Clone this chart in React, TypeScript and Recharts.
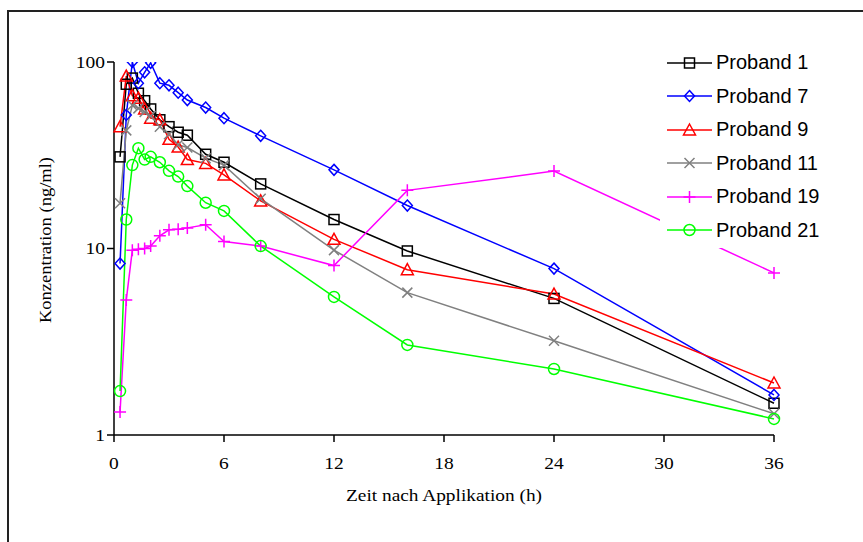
import React from "react";
import { LineChart, Line, XAxis, YAxis } from "recharts";

// sampling times (h)
const times = [0.33, 0.67, 1, 1.33, 1.67, 2, 2.5, 3, 3.5, 4, 5, 6, 8, 12, 16, 24, 36];

// concentrations (ng/ml) per subject
const proband1 = [31, 76, 82, 68, 62, 56, 49, 45, 42, 40.5, 32, 29, 22.2, 14.3, 9.7, 5.4, 1.48];
const proband7 = [8.3, 52, 100, 77, 88, 99, 77, 75, 68.5, 62.5, 57, 50, 40.2, 26.4, 17, 7.8, 1.64];
const proband9 = [45, 84, 66, 64, 56, 50, 49, 38.5, 35, 30, 28.6, 24.8, 18, 11.2, 7.7, 5.7, 1.9];
const proband11 = [17.5, 43, 58.6, 56.4, 54, 51.4, 45, 41, 36, 34.8, 30.5, 28, 18.5, 9.8, 5.8, 3.2, 1.3];
const proband19 = [1.33, 5.3, 9.8, 9.9, 10, 10.3, 11.7, 12.6, 12.7, 12.9, 13.4, 10.9, 10.3, 8.1, 20.5, 26, 7.4];
const proband21 = [1.72, 14.3, 28, 34.5, 30, 31, 29, 26.1, 24.3, 21.6, 17.6, 15.9, 10.3, 5.5, 3.04, 2.26, 1.22];

const xTicks = [0, 6, 12, 18, 24, 30, 36];
const yTicks = [1, 10, 100];

type Kind = "square" | "diamond" | "triangle" | "x" | "plus" | "circle";

const SERIES: { key: string; name: string; color: string; kind: Kind; values: number[] }[] = [
  { key: "p1", name: "Proband 1", color: "#000000", kind: "square", values: proband1 },
  { key: "p7", name: "Proband 7", color: "#0000ff", kind: "diamond", values: proband7 },
  { key: "p9", name: "Proband 9", color: "#ff0000", kind: "triangle", values: proband9 },
  { key: "p11", name: "Proband 11", color: "#808080", kind: "x", values: proband11 },
  { key: "p19", name: "Proband 19", color: "#ff00ff", kind: "plus", values: proband19 },
  { key: "p21", name: "Proband 21", color: "#00ff00", kind: "circle", values: proband21 },
];

const rows = times.map((t, i) => {
  const r: Record<string, number> = { t };
  SERIES.forEach((s) => (r[s.key] = s.values[i]));
  return r;
});

function Marker({ kind, color, cx, cy }: { kind: Kind; color: string; cx: number; cy: number }) {
  const sw = 1.5;
  switch (kind) {
    case "square":
      return <rect x={cx - 5} y={cy - 5} width={10} height={10} fill="none" stroke={color} strokeWidth={sw} />;
    case "diamond":
      return <polygon points={`${cx},${cy - 5.5} ${cx + 5},${cy} ${cx},${cy + 5.5} ${cx - 5},${cy}`} fill="none" stroke={color} strokeWidth={sw} />;
    case "triangle":
      return <polygon points={`${cx},${cy - 6} ${cx + 6},${cy + 5} ${cx - 6},${cy + 5}`} fill="none" stroke={color} strokeWidth={sw} />;
    case "x":
      return (
        <path d={`M${cx - 5},${cy - 5}L${cx + 5},${cy + 5}M${cx - 5},${cy + 5}L${cx + 5},${cy - 5}`} stroke={color} strokeWidth={sw} />
      );
    case "plus":
      return <path d={`M${cx - 6},${cy}L${cx + 6},${cy}M${cx},${cy - 6}L${cx},${cy + 6}`} stroke={color} strokeWidth={sw} />;
    default:
      return <circle cx={cx} cy={cy} r={5.5} fill="none" stroke={color} strokeWidth={sw} />;
  }
}

const makeDot = (kind: Kind, color: string) => (props: any) => {
  const { cx, cy, index } = props;
  if (cx == null || cy == null) return <g key={index} />;
  return (
    <g key={index}>
      <Marker kind={kind} color={color} cx={cx} cy={cy} />
    </g>
  );
};

function LegendBox() {
  return (
    <div style={{ position: "absolute", left: 660, top: 45, width: 190, height: 202, background: "#fff", paddingTop: 1 }}>
      {SERIES.map((s) => (
        <div key={s.key} style={{ display: "flex", alignItems: "center", height: 33.5 }}>
          <svg width={52} height={20} style={{ marginLeft: 7 }}>
            <line x1={0} y1={10} x2={45} y2={10} stroke={s.color} strokeWidth={1.5} />
            <Marker kind={s.kind} color={s.color} cx={22.5} cy={10} />
          </svg>
          <span style={{ fontFamily: "'Liberation Sans', Arial, sans-serif", fontSize: 20, color: "#000", marginLeft: -3 }}>
            {s.name}
          </span>
        </div>
      ))}
    </div>
  );
}

// the original uses a slightly wide serif face, so text is stretched a bit
const FS = 16.5;
const STRETCH = 1.18;
const serif = "'Liberation Serif', 'Times New Roman', serif";

const XTick = (props: any) => {
  const { x, y, payload } = props;
  const s = String(payload.value);
  return (
    <text x={x} y={y} dy={27} textAnchor="middle" fontFamily={serif} fontSize={FS} fill="#000"
      textLength={s.length * 0.5 * FS * STRETCH} lengthAdjust="spacingAndGlyphs">
      {s}
    </text>
  );
};

const YTick = (props: any) => {
  const { x, y, payload } = props;
  const s = String(payload.value);
  return (
    <text x={x} y={y} dy={5.5} textAnchor="end" fontFamily={serif} fontSize={FS} fill="#000"
      textLength={s.length * 0.5 * FS * STRETCH} lengthAdjust="spacingAndGlyphs">
      {s}
    </text>
  );
};

export default function App() {
  return (
    <div style={{ position: "absolute", left: 0, top: 0, width: 863, height: 542, background: "#fff", overflow: "hidden" }}>
      <div style={{ position: "absolute", left: 7, top: 10, width: 1000, height: 700, border: "2px solid #222", boxSizing: "border-box" }} />
      <div style={{ position: "absolute", left: 0, top: 0 }}>
        <LineChart width={863} height={542} data={rows} margin={{ top: 62, right: 89, bottom: 37, left: 0 }}>
          <XAxis
            dataKey="t"
            type="number"
            domain={[0, 36]}
            ticks={xTicks}
            height={70}
            stroke="#000"
            strokeWidth={1.5}
            tickSize={7}
            tickMargin={0}
            tick={<XTick />}
            label={{
              content: () => (
                <text x={444} y={501} textAnchor="middle" fontFamily={serif} fontSize={FS} fill="#000"
                  textLength={196} lengthAdjust="spacingAndGlyphs">
                  Zeit nach Applikation (h)
                </text>
              ),
            }}
          />
          <YAxis
            type="number"
            scale="log"
            domain={[1, 100]}
            ticks={yTicks}
            allowDataOverflow
            width={114}
            stroke="#000"
            strokeWidth={1.5}
            tickSize={7}
            tickMargin={2}
            tick={<YTick />}
            label={{
              content: () => (
                <text x={51} y={240} transform="rotate(-90 51 240)" textAnchor="middle" fontFamily={serif}
                  fontSize={FS} fill="#000" textLength={166} lengthAdjust="spacingAndGlyphs">
                  Konzentration (ng/ml)
                </text>
              ),
            }}
          />
          {SERIES.map((s) => (
            <Line
              key={s.key}
              dataKey={s.key}
              name={s.name}
              stroke={s.color}
              strokeWidth={1.5}
              type="linear"
              dot={makeDot(s.kind, s.color)}
              activeDot={false}
              isAnimationActive={false}
            />
          ))}
        </LineChart>
      </div>
      <LegendBox />
    </div>
  );
}
